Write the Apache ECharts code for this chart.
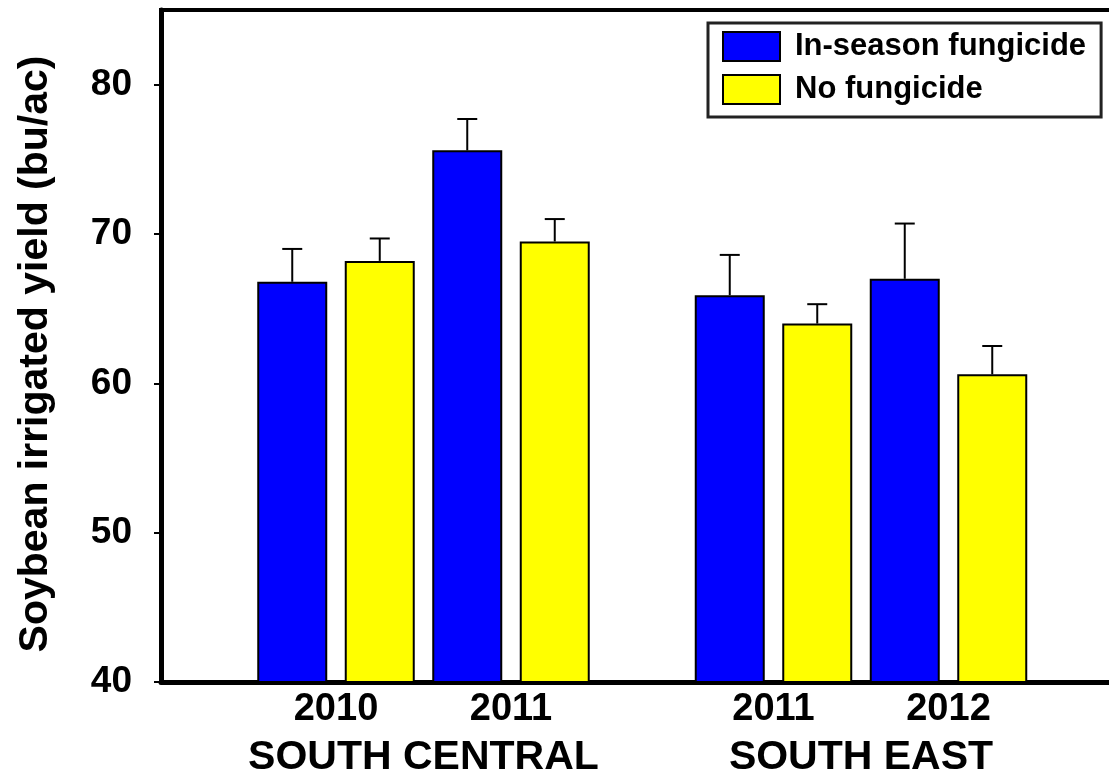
<!DOCTYPE html>
<html><head><meta charset="utf-8">
<script src="https://cdn.jsdelivr.net/npm/echarts@6/dist/echarts.min.js"></script>
<style>html,body{margin:0;padding:0;background:#fff}#c{width:1109px;height:776px}</style>
</head><body><div id="c"></div>
<script>
// ---- data ----
const years = ['2010', '2011', '2011', '2012'];
const regions = ['SOUTH CENTRAL', 'SOUTH EAST'];
const seriesNames = ['In-season fungicide', 'No fungicide'];
const inSeason = [66.8, 75.6, 65.9, 67.0];
const inSeasonErr = [2.2, 2.1, 2.7, 3.7];
const noFungicide = [68.2, 69.5, 64.0, 60.6];
const noFungicideErr = [1.5, 1.5, 1.3, 1.9];
const yTicks = [40, 50, 60, 70, 80];

// ---- layout helpers (slot index of each bar on the x scale) ----
const FONT = "'Liberation Sans', Arial, sans-serif";
function slot(i, s) { return i * 2 + s + (i >= 2 ? 1 : 0); }
const yearPos = years.map((_, i) => slot(i, 0) + 0.5);
const regionPos = [ (slot(0,0) + slot(1,1)) / 2, (slot(2,0) + slot(3,1)) / 2 ];
function lookup(pos, labels) {
  return function (v) {
    for (let k = 0; k < pos.length; k++) if (Math.abs(pos[k] - v) < 1e-6) return labels[k];
    return '';
  };
}

const blueData = inSeason.map((v, i) => [slot(i, 0), v]);
const yellowData = noFungicide.map((v, i) => [slot(i, 1), v]);
const errData = inSeason.map((v, i) => [slot(i, 0), v, inSeasonErr[i]])
  .concat(noFungicide.map((v, i) => [slot(i, 1), v, noFungicideErr[i]]));

const chart = echarts.init(document.getElementById('c'));
chart.setOption({
  animation: false,
  backgroundColor: '#fff',
  textStyle: { fontFamily: FONT },
  grid: { left: 161, top: 10, right: -14.5, bottom: 94, containLabel: false, outerBoundsMode: 'none',
    show: true, borderColor: '#000', borderWidth: 4, backgroundColor: 'transparent' },
  legend: {
    orient: 'vertical', left: 708, top: 23,
    padding: [8, 15, 12, 14],
    itemWidth: 57, itemHeight: 29, itemGap: 12,
    borderColor: '#222', borderWidth: 3,
    icon: 'rect',
    data: seriesNames,
    textStyle: { fontFamily: FONT, fontWeight: 'bold', fontSize: 31, color: '#000', padding: [0, 0, 0, 10] }
  },
  xAxis: [{
    type: 'value', min: -1.5, max: 9.5,
    splitLine: { show: false },
    axisLine: { onZero: false, lineStyle: { color: '#000', width: 5 } },
    axisTick: { show: false },
    axisLabel: { customValues: yearPos, formatter: lookup(yearPos, years), margin: 9,
      fontFamily: FONT, fontWeight: 'bold', fontSize: 38, color: '#000' }
  }, {
    type: 'value', min: -1.5, max: 9.5, position: 'bottom',
    splitLine: { show: false },
    axisLine: { show: false, onZero: false },
    axisTick: { show: false },
    axisLabel: { customValues: regionPos, formatter: lookup(regionPos, regions), margin: 55,
      fontFamily: FONT, fontWeight: 'bold', fontSize: 41, color: '#000' }
  }],
  yAxis: {
    type: 'value', min: 40, max: 85, interval: 10,
    name: 'Soybean irrigated yield (bu/ac)',
    nameLocation: 'middle', nameRotate: 90, nameGap: 105,
    nameTextStyle: { fontFamily: FONT, fontWeight: 'bold', fontSize: 41, color: '#000', padding: [0, 16, 0, 0] },
    splitLine: { show: false },
    axisLine: { show: true, onZero: false, lineStyle: { color: '#000', width: 5 } },
    axisTick: { show: true, length: 7, customValues: yTicks, lineStyle: { color: '#000', width: 2 } },
    axisLabel: { customValues: yTicks, margin: 29, fontFamily: FONT, fontWeight: 'bold', fontSize: 37, color: '#000' }
  },
  series: [{
    name: seriesNames[0], type: 'bar', data: blueData,
    barWidth: 70, barGap: '-100%',
    itemStyle: { color: '#0000ff', borderColor: '#000', borderWidth: 2 }
  }, {
    name: seriesNames[1], type: 'bar', data: yellowData,
    barWidth: 70, barGap: '-100%',
    itemStyle: { color: '#ffff00', borderColor: '#000', borderWidth: 2 }
  }, {
    name: 'err', type: 'custom', data: errData, z: 5,
    encode: { x: 0, y: 1 },
    renderItem: function (params, api) {
      const x = api.value(0), v = api.value(1), e = api.value(2);
      const b = api.coord([x, v]);
      const t = api.coord([x, v + e]);
      const half = 10;
      return { type: 'group', children: [
        { type: 'line', shape: { x1: b[0], y1: b[1], x2: t[0], y2: t[1] }, style: { stroke: '#000', lineWidth: 2 } },
        { type: 'line', shape: { x1: t[0] - half, y1: t[1], x2: t[0] + half, y2: t[1] }, style: { stroke: '#000', lineWidth: 2 } }
      ] };
    }
  }]
});
</script>
</body></html>
